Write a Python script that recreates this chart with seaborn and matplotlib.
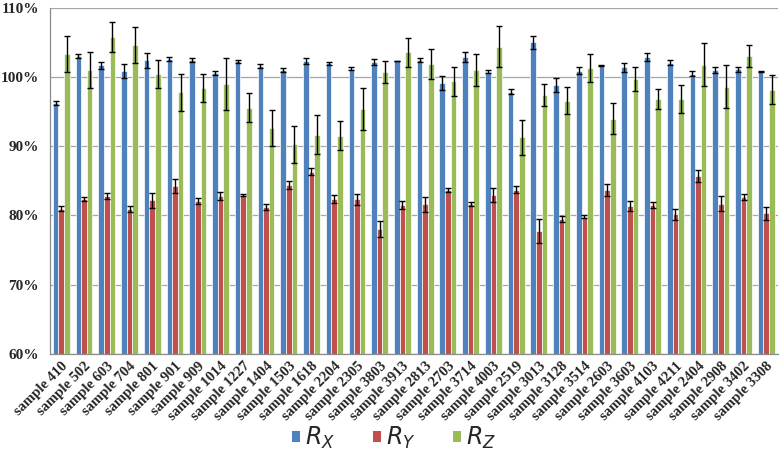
import matplotlib
matplotlib.use("Agg")
import matplotlib.pyplot as plt
from matplotlib.patches import Patch
from matplotlib.ticker import FuncFormatter, FixedLocator
import seaborn as sns
import pandas as pd

samples = ["sample 410", "sample 502", "sample 603", "sample 704", "sample 801",
           "sample 901", "sample 909", "sample 1014", "sample 1227", "sample 1404",
           "sample 1503", "sample 1618", "sample 2204", "sample 2305", "sample 3803",
           "sample 3913", "sample 2813", "sample 2703", "sample 3714", "sample 4003",
           "sample 2519", "sample 3013", "sample 3128", "sample 3514", "sample 2603",
           "sample 3603", "sample 4103", "sample 4211", "sample 2404", "sample 2908",
           "sample 3402", "sample 3308"]

rx = [96.2, 103.0, 101.7, 100.85, 102.4, 102.6, 102.5, 100.6, 102.3, 101.6,
      101.0, 102.3, 102.0, 101.2, 102.2, 102.3, 102.5, 99.1, 102.9, 100.75,
      97.9, 105.0, 98.9, 100.9, 101.7, 101.4, 102.9, 102.1, 100.5, 101.0,
      101.1, 100.8]
rx_err = [0.3, 0.3, 0.5, 1.0, 1.05, 0.35, 0.3, 0.25, 0.2, 0.3,
          0.3, 0.4, 0.2, 0.2, 0.4, 0.05, 0.3, 1.0, 0.7, 0.2,
          0.4, 1.0, 1.0, 0.5, 0.05, 0.6, 0.6, 0.3, 0.35, 0.45,
          0.35, 0.05]

ry = [81.0, 82.4, 82.8, 80.9, 82.2, 84.3, 82.1, 82.8, 83.0, 81.2,
      84.4, 86.3, 82.4, 82.35, 78.0, 81.5, 81.6, 83.7, 81.7, 83.0,
      83.7, 77.8, 79.5, 79.85, 83.7, 81.4, 81.5, 80.2, 85.7, 81.7,
      82.7, 80.3]
ry_err = [0.3, 0.3, 0.4, 0.4, 1.05, 1.0, 0.4, 0.6, 0.15, 0.4,
          0.6, 0.5, 0.6, 0.8, 1.15, 0.6, 1.1, 0.3, 0.3, 1.0,
          0.5, 1.75, 0.4, 0.2, 0.9, 0.7, 0.4, 0.8, 0.8, 1.1,
          0.45, 0.9]

rz = [103.3, 101.0, 105.8, 104.6, 100.4, 97.8, 98.4, 99.0, 95.6, 92.6,
      90.3, 91.7, 91.5, 95.4, 100.7, 103.6, 101.9, 99.4, 101.0, 104.4,
      91.3, 97.4, 96.6, 101.3, 94.0, 99.7, 96.85, 96.85, 101.8, 98.6,
      103.1, 98.15]
rz_err = [2.6, 2.6, 2.2, 2.6, 2.0, 2.7, 2.0, 3.7, 2.1, 2.6,
          2.7, 2.8, 2.1, 3.0, 1.6, 2.1, 2.2, 2.1, 2.3, 3.0,
          2.5, 1.6, 1.9, 2.0, 2.2, 1.7, 1.4, 2.0, 3.1, 3.1,
          1.6, 2.1]

series = ["$R_X$", "$R_Y$", "$R_Z$"]
colors = ["#4F81BD", "#C0504D", "#9BBB59"]

df = pd.concat([
    pd.DataFrame({"sample": samples, "series": series[0], "value": rx, "err": rx_err}),
    pd.DataFrame({"sample": samples, "series": series[1], "value": ry, "err": ry_err}),
    pd.DataFrame({"sample": samples, "series": series[2], "value": rz, "err": rz_err}),
], ignore_index=True)

sns.set_style("white")
fig = plt.figure(figsize=(7.8, 4.62), dpi=100)
ax = fig.add_axes([0.064, 0.234, 0.933, 0.749])

sns.barplot(data=df, x="sample", y="value", hue="series", palette=colors,
            errorbar=None, width=0.74, saturation=1, legend=False,
            edgecolor="white", linewidth=0.5, ax=ax, zorder=2)

for i, s in enumerate(series):
    sub = df[df["series"] == s]
    xs = [b.get_x() + b.get_width() / 2 for b in ax.containers[i]]
    ax.errorbar(xs, sub["value"], yerr=sub["err"], fmt="none", ecolor="black",
                elinewidth=1.0, capsize=2.3, capthick=1.0, zorder=3)

ax.set_ylim(60, 110)
ax.set_xlim(-0.5, len(samples) - 0.5)
ax.set_yticks(range(60, 111, 10))
ax.yaxis.set_major_formatter(FuncFormatter(lambda v, p: f"{v:.0f}%"))
ax.yaxis.grid(True, color="#a6a6a6", linewidth=0.9, zorder=0)
ax.set_axisbelow(True)
ax.set_xlabel("")
ax.set_ylabel("")

for side in ["top", "right"]:
    ax.spines[side].set_visible(False)
for side in ["left", "bottom"]:
    ax.spines[side].set_color("#8c8c8c")
    ax.spines[side].set_linewidth(0.9)

ax.tick_params(axis="y", length=0, pad=8)
ax.tick_params(axis="x", which="major", length=0, pad=4)
ax.xaxis.set_minor_locator(FixedLocator([i - 0.5 for i in range(len(samples) + 1)]))
ax.tick_params(axis="x", which="minor", length=5, color="#8c8c8c", width=0.9)

for lab in ax.get_yticklabels():
    lab.set_fontfamily("Liberation Serif")
    lab.set_fontweight("bold")
    lab.set_fontsize(11)
for lab in ax.get_xticklabels():
    lab.set_fontfamily("Liberation Serif")
    lab.set_fontweight("bold")
    lab.set_fontsize(10.5)
    lab.set_rotation(45)
    lab.set_ha("right")
    lab.set_rotation_mode("anchor")

handles = [Patch(facecolor=c, edgecolor="none") for c in colors]
fig.legend(handles, series, loc="center", bbox_to_anchor=(0.505, 0.052), ncol=3,
           frameon=False, fontsize=17, handlelength=0.35, handleheight=0.35,
           handletextpad=0.2, columnspacing=1.6)

fig.savefig("out.png", dpi=100)
